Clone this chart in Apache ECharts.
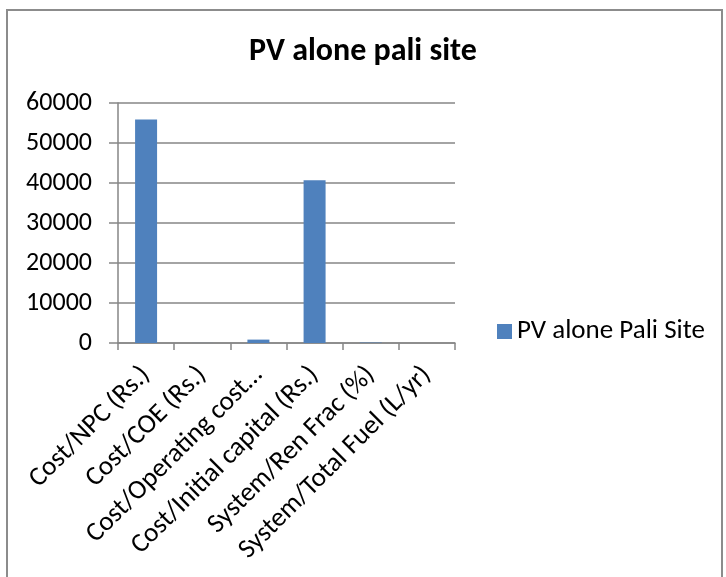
<!DOCTYPE html>
<html>
<head>
<meta charset="utf-8">
<script src="https://cdn.jsdelivr.net/npm/echarts@6/dist/echarts.min.js"></script>
<style>
  html, body { margin: 0; padding: 0; background: #fff; }
  #chart { width: 726px; height: 577px; }
</style>
</head>
<body>
<div id="chart"></div>
<script>
// values
var categories = [
	'Cost/NPC (Rs.)',
	'Cost/COE (Rs.)',
	'Cost/Operating cost…',
	'Cost/Initial capital (Rs.)',
	'System/Ren Frac (%)',
	'System/Total Fuel (L/yr)'
];
var pvValues = [55900, 10, 850, 40700, 100, 0];
var yTicks = [0, 10000, 20000, 30000, 40000, 50000, 60000];
var seriesName = 'PV alone Pali Site';
var titleText = 'PV alone pali site';

var font = 'Calibri, Carlito, "Liberation Sans Narrow", "Open Sans", sans-serif';
var gridGray = '#868686';

var myChart = echarts.init(document.getElementById('chart'));

myChart.setOption({
	animation: false,
	backgroundColor: '#fff',
	title: {
		text: titleText,
		left: 'center',
		top: 31,
		textStyle: { fontFamily: font, fontSize: 32, fontWeight: 'bold', color: '#000' }
	},
	legend: {
		data: [seriesName],
		left: 497,
		top: 318,
		padding: 0,
		icon: 'rect',
		itemWidth: 15,
		itemHeight: 15,
		itemGap: 5,
		textStyle: { fontFamily: font, fontSize: 27, color: '#000' }
	},
	grid: {
		left: 118,
		top: 103,
		width: 337,
		height: 240,
		containLabel: false
	},
	xAxis: {
		type: 'category',
		data: categories,
		axisLine: { lineStyle: { color: gridGray, width: 1.5 } },
		axisTick: { show: true, length: 7, lineStyle: { color: gridGray, width: 1.5 } },
		axisLabel: {
			rotate: 45,
			interval: 0,
			margin: 28,
			fontFamily: font,
			fontSize: 27,
			color: '#000'
		}
	},
	yAxis: {
		type: 'value',
		min: 0,
		max: 60000,
		interval: 10000,
		axisLine: { show: true, lineStyle: { color: gridGray, width: 1.5 } },
		axisTick: { show: true, length: 9, lineStyle: { color: gridGray, width: 1.5 } },
		splitLine: { show: true, lineStyle: { color: gridGray, width: 1.5 } },
		axisLabel: {
			margin: 26,
			fontFamily: font,
			fontSize: 26,
			color: '#000',
			formatter: function (v) { return yTicks.indexOf(v) >= 0 ? String(v) : ''; }
		}
	},
	series: [
		{
			name: seriesName,
			type: 'bar',
			data: pvValues,
			barWidth: 22,
			itemStyle: { color: '#4f81bd' }
		}
	],
	graphic: [
		{
			type: 'rect',
			shape: { x: 7, y: 10, width: 715, height: 580 },
			style: { fill: 'none', stroke: '#8c8c8c', lineWidth: 2 },
			silent: true
		}
	]
});
</script>
</body>
</html>
